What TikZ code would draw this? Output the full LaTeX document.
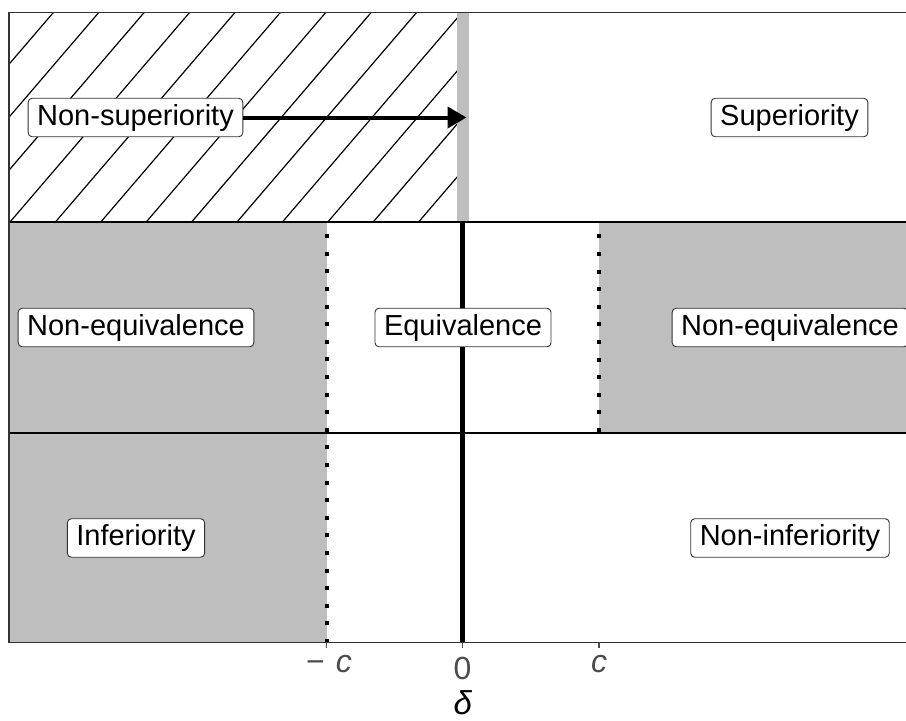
\documentclass[tikz,border=0pt]{standalone}
\usepackage{fontspec}
\setmainfont{Liberation Sans}
\usetikzlibrary{arrows.meta}
\definecolor{fillgray}{HTML}{BEBEBE}
\definecolor{axisgray}{HTML}{4D4D4D}
\definecolor{framegray}{HTML}{333333}
\begin{document}
\begin{tikzpicture}[x=1pt,y=-1pt,
  lab/.style={draw=framegray, fill=white, rounded corners=4pt, line width=0.9pt,
    inner xsep=9pt, inner ysep=0pt, minimum height=38.5pt, text height=21pt, text depth=6pt,
    font=\fontsize{29}{34}\selectfont},
  divline/.style={line width=2pt, black},
  dotline/.style={line width=4pt, dash pattern=on 4pt off 13.6pt},
  tickmark/.style={axisgray, line width=1.5pt},
  ticklab/.style={axisgray, anchor=base, inner sep=0pt, font=\fontsize{32}{36}\selectfont},
  hatch/.style={line width=1.2pt, black}]
\useasboundingbox (0,0) rectangle (906,721);
\begin{scope}
\clip (0,0) rectangle (906,721);
% grey regions
\fill[fillgray] (9,222) rectangle (326.5,642);
\fill[fillgray] (599,222) rectangle (916,433);
% hatching
\begin{scope}
\clip (9,12) rectangle (457,222);
\foreach \k in {-5,...,11} \draw[hatch] ({10+45.4*\k},222) -- ({190+45.4*\k},12);
\end{scope}
% grey band at zero
\fill[fillgray] (456.7,12) rectangle (469.3,222);
% dividing lines
\draw[divline] (9,222) -- (916,222);
\draw[divline] (9,433) -- (916,433);
% zero line
\draw[line width=4.5pt] (462.5,222) -- (462.5,642);
% dotted margins
\draw[dotline] (326.5,643) -- (326.5,222);
\draw[dotline] (599,432) -- (599,222);
% frame
\draw[framegray, line width=1.5pt] (9,12.5) rectangle (916,642.5);
% ticks
\draw[tickmark] (326.5,642.5) -- (326.5,648);
\draw[tickmark] (462.5,642.5) -- (462.5,648);
\draw[tickmark] (599,642.5) -- (599,648);
% labels
\node[lab] (nsup) at (135.5,117.5) {Non-superiority};
\node[lab] (sup) at (789.5,117.5) {Superiority};
\node[lab] (neql) at (136,327.5) {Non-equivalence};
\node[lab] (eq) at (463,327.5) {Equivalence};
\node[lab] (neqr) at (790,327.5) {Non-equivalence};
\node[lab] (inf) at (136,538) {Inferiority};
\node[lab] (ninf) at (790,538) {Non-inferiority};
% arrow
\coordinate (tip) at (466.5,117.5);
\draw[line width=4pt, -{Triangle[length=19pt,width=21pt]}] (nsup.east) -- (tip);
% tick labels
\node[ticklab] (tmc) at (329,672) {−\hspace{11pt}\textit{c}};
\node[ticklab] (tz) at (462.5,679) {0};
\node[ticklab] (tc) at (599,672) {\textit{c}};
\node[anchor=base, inner sep=0pt, font=\fontsize{33}{38}\selectfont] (dl) at (463,714) {\textit{δ}};
\end{scope}
\end{tikzpicture}
\end{document}
